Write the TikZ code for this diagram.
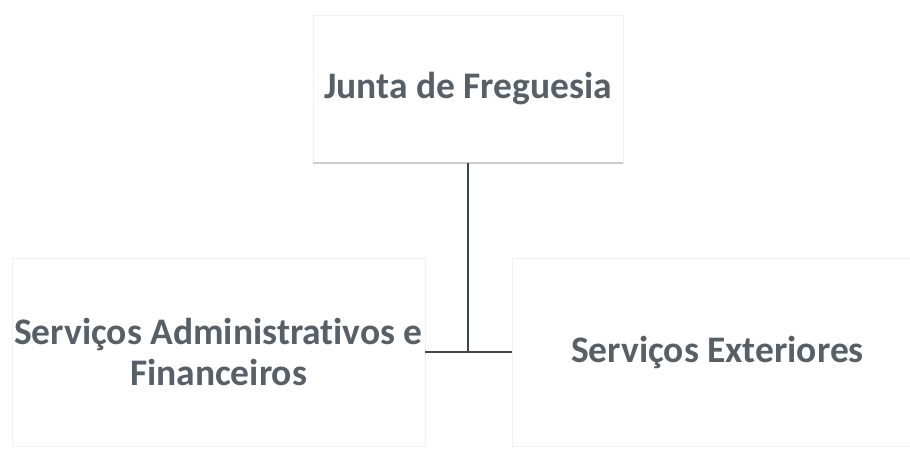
\documentclass[tikz,border=0pt]{standalone}
\usepackage{fontspec}
\setmainfont[Ligatures=NoCommon]{Carlito}
\usetikzlibrary{positioning}
\definecolor{txtgray}{HTML}{575F67}
\definecolor{linegray}{HTML}{3E464C}
\definecolor{boxgray}{HTML}{F0F1F2}

\begin{document}
\begin{tikzpicture}[x=1pt, y=-1pt,
                    unit/.style={draw=boxgray, line width=.8pt, fill=white, text=txtgray,
                      font=\fontsize{37.5}{41.5}\selectfont\bfseries, align=center,
                      inner sep=0pt, outer sep=0pt},
                    link/.style={draw=linegray, line width=2pt}]
  \useasboundingbox[fill=white] (0,0) rectangle (910,450);

  \node[unit, minimum width=310pt, minimum height=148pt] (junta) at (468,89) {Junta de Freguesia};
  \node[unit, minimum width=413pt, minimum height=188pt] (admin) at (218.5,352) {Servi\c{c}os Administrativos e\\Financeiros};
  \node[unit, minimum width=411pt, minimum height=188pt] (exter) at (717.5,352) {Servi\c{c}os Exteriores};
  \coordinate (jn) at (junta.south |- admin.east);

  \draw[gray!40, line width=1.2pt] (junta.south west) -- (junta.south east);

  \draw[link] (junta.south) -- (jn);
  \draw[link] (admin.east) -- (exter.west);
\end{tikzpicture}
\end{document}
